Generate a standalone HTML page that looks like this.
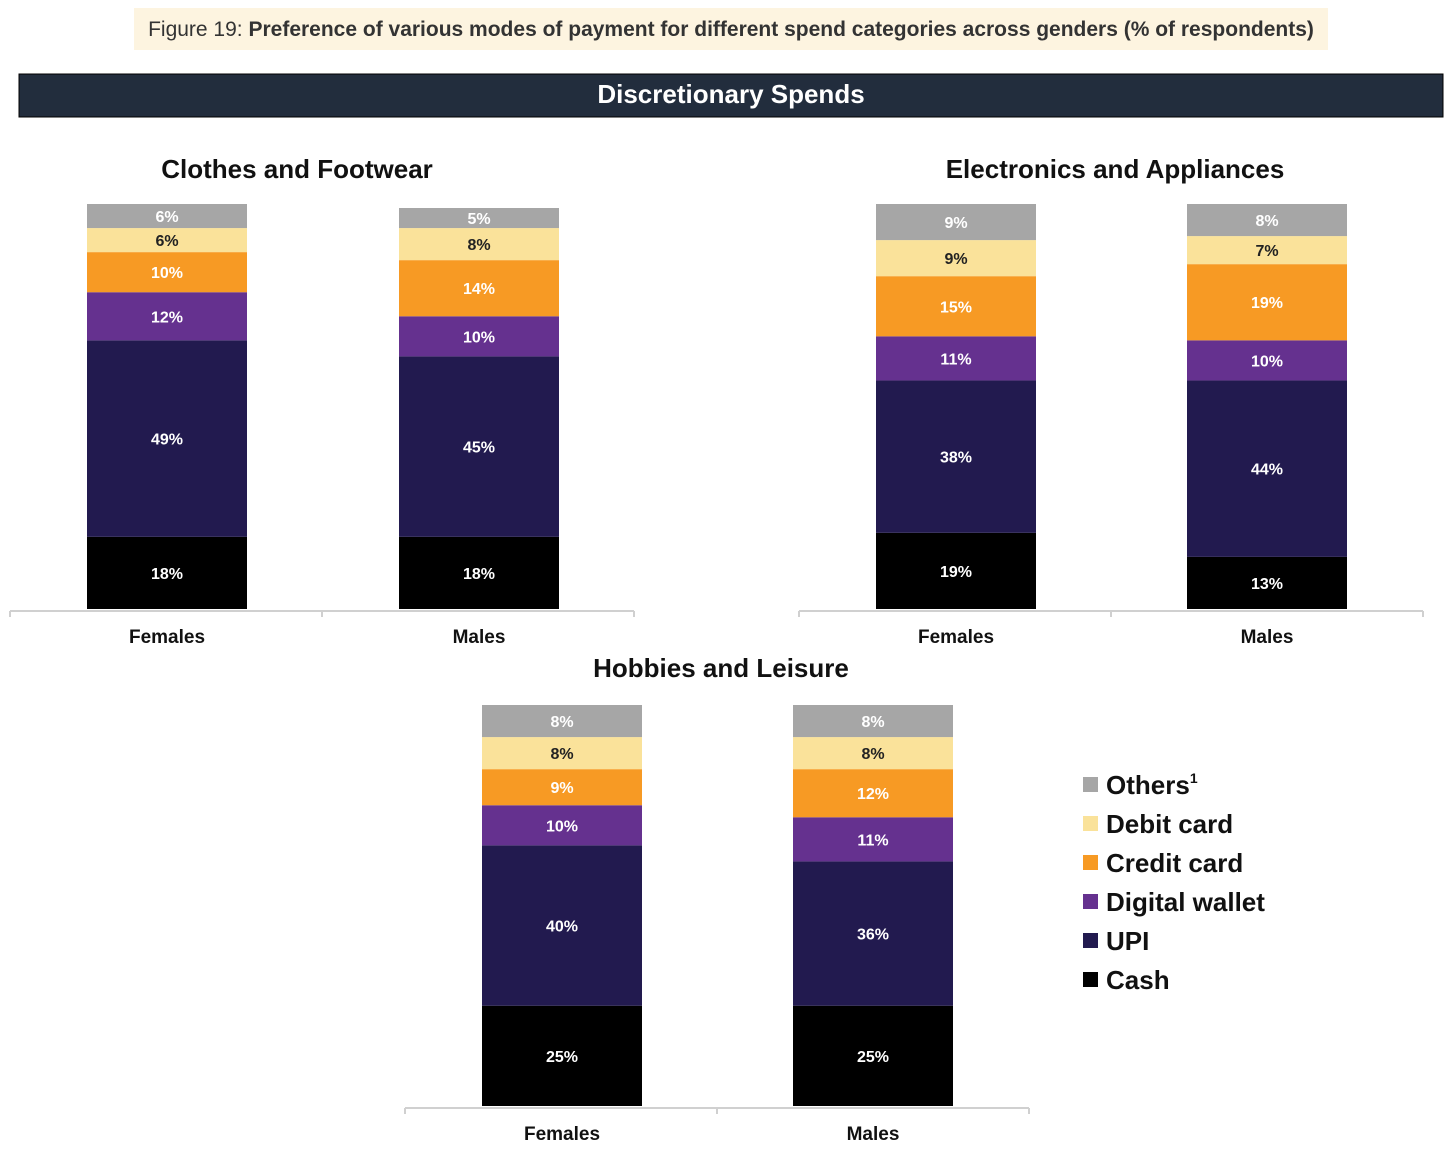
<!DOCTYPE html>
<html><head><meta charset="utf-8"><style>
body{margin:0;background:#fff;font-family:"Liberation Sans","DejaVu Sans",sans-serif}
svg text{font-family:"Liberation Sans","DejaVu Sans",sans-serif}
</style></head><body>
<svg id="c" width="1456" height="1158" viewBox="0 0 1456 1158">
<rect x="134" y="8" width="1194" height="42" fill="#fdf4e0"/>
<text x="731" y="36" text-anchor="middle" font-size="21" fill="#333">Figure 19: <tspan font-weight="bold">Preference of various modes of payment for different spend categories across genders (% of respondents)</tspan></text>
<rect x="19" y="74" width="1424" height="43" fill="#222d3d" stroke="#000"/>
<text x="731" y="103" text-anchor="middle" font-size="26" font-weight="bold" fill="#fff">Discretionary Spends</text>
<g id="charts"></g>
<g id="legend"></g>
</svg>
<script>
const series=["Cash","UPI","Digital wallet","Credit card","Debit card","Others"];
const colors=["#000000","#221a4f","#65318f","#f79a24","#fae29a","#a6a6a6"];
const labelColors=["#fff","#fff","#fff","#fff","#222","#fff"];
const genders=["Females","Males"];
const clothesF=[18,49,12,10,6,6];
const clothesM=[18,45,10,14,8,5];
const elecF=[19,38,11,15,9,9];
const elecM=[13,44,10,19,7,8];
const hobbyF=[25,40,10,9,8,8];
const hobbyM=[25,36,11,12,8,8];
const panels=[
 {title:"Clothes and Footwear",tx:297,ty:178,data:[clothesF,clothesM],bx:[87,399],top:204,bot:609,lx0:10,lx1:634,name:"clothes-footwear"},
 {title:"Electronics and Appliances",tx:1115,ty:178,data:[elecF,elecM],bx:[876,1187],top:204,bot:609,lx0:799,lx1:1423,name:"electronics-appliances"},
 {title:"Hobbies and Leisure",tx:721,ty:677,data:[hobbyF,hobbyM],bx:[482,793],top:705,bot:1106,lx0:405,lx1:1029,name:"hobbies-leisure"}
];
const NS="http://www.w3.org/2000/svg";
function mk(tag,attrs,parent){const e=document.createElementNS(NS,tag);for(const k in attrs)e.setAttribute(k,attrs[k]);parent.appendChild(e);return e;}
const root=document.getElementById("charts");
panels.forEach(p=>{
 const g=mk("g",{},root);
 
 
 const t=mk("text",{x:p.tx,y:p.ty,"text-anchor":"middle","font-size":26,"font-weight":"bold",fill:"#111"},g);
 t.textContent=p.title;
 
 
 const ax=mk("line",{x1:p.lx0,x2:p.lx1,y1:p.bot+2,y2:p.bot+2,stroke:"#d0d0d0","stroke-width":2},g);
 
 
 const mid=(p.lx0+p.lx1)/2;
 [p.lx0,mid,p.lx1].forEach(x=>{const tk=mk("line",{x1:x,x2:x,y1:p.bot+2,y2:p.bot+8,stroke:"#d0d0d0","stroke-width":2},g);
  
  });
 const maxSum=Math.max(...p.data.map(v=>v.reduce((a,b)=>a+b,0)));
 const H=p.bot-p.top;const k=H/maxSum;
 p.data.forEach((vals,gi)=>{
  const x=p.bx[gi];const w=160;
  let y=p.bot;
  vals.forEach((v,si)=>{
   const h=v*k;y-=h;
   const r=mk("rect",{x:x,y:y,width:w,height:h,fill:colors[si]},g);
   
   
   const l=mk("text",{x:x+w/2,y:y+h/2+6,"text-anchor":"middle","font-size":16,"font-weight":"bold",fill:labelColors[si]},g);
   l.textContent=v+"%";
   
   
  });
  const cl=mk("text",{x:x+w/2,y:p.bot+34,"text-anchor":"middle","font-size":19,"font-weight":"bold",fill:"#111"},g);
  cl.textContent=genders[gi];
  
  
 });
});
const lg=document.getElementById("legend");


for(let i=5;i>=0;i--){
 const row=5-i;const y=785+row*39;
 const s=mk("rect",{x:1083,y:y-8,width:15,height:15,fill:colors[i]},lg);
 
 
 const t=mk("text",{x:1106,y:y+9,"font-size":26,"font-weight":"bold",fill:"#111"},lg);
 t.textContent=series[i];
 if(i===5){const sp=mk("tspan",{"font-size":14,dy:-11},t);sp.textContent="1";}
 
 
}
</script>
</body></html>
